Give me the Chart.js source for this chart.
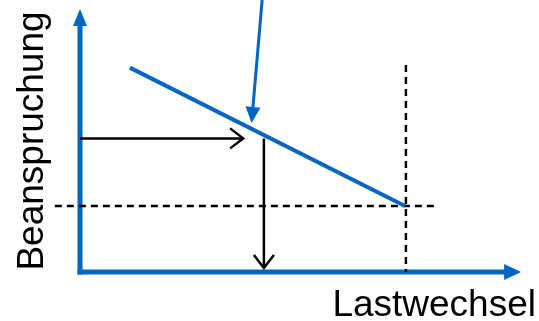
<!DOCTYPE html>
<html>
<head>
<meta charset="utf-8">
<script src="https://cdn.jsdelivr.net/npm/chart.js@4/dist/chart.umd.min.js"></script>
<style>
html, body { margin: 0; padding: 0; background: #fff; }
</style>
</head>
<body>
<canvas id="myChart" width="539" height="321"></canvas>
<script>
// schematic S-N (Woehler) diagram, values in arbitrary units 0..100
const xLabel = 'Lastwechsel';
const yLabel = 'Beanspruchung';

const xAxisX = [0, 96.4];
const xAxisY = [0, 0];
const yAxisX = [0, 0];
const yAxisY = [0, 94.3];

const curveX = [11.3, 73.7];
const curveY = [78, 25.2];

const loadX = [0, 37];
const loadY = [51, 51];
const lifeX = [41.7, 41.7];
const lifeY = [51, 1.5];

const limitHX = [-5.7, 80.5];
const limitHY = [25.2, 25.2];
const limitVX = [73.9, 73.9];
const limitVY = [79, 0];

const pointerX = [41.3, 39.2];
const pointerY = [103.8, 62.6];

const blue = '#0066c2';

function pts(xs, ys) {
    return xs.map((x, i) => ({ x: x, y: ys[i] }));
}

function seg(label, xs, ys, color, width, extra) {
    return Object.assign({
        label: label,
        data: pts(xs, ys),
        showLine: true,
        borderColor: color,
        backgroundColor: color,
        borderWidth: width,
        pointRadius: 0,
        tension: 0,
        clip: false
    }, extra || {});
}

// arrow heads at the last point of a dataset
const arrowPlugin = {
    id: 'arrows',
    afterDatasetsDraw(chart) {
        const ctx = chart.ctx;
        chart.data.datasets.forEach((ds, i) => {
            if (!ds.arrow) return;
            const pts = chart.getDatasetMeta(i).data;
            const a = pts[pts.length - 2], b = pts[pts.length - 1];
            const ang = Math.atan2(b.y - a.y, b.x - a.x);
            ctx.save();
            ctx.translate(b.x, b.y);
            ctx.rotate(ang);
            if (ds.arrow === 'filled') {
                const len = ds.headLen, w = ds.headWidth / 2;
                ctx.fillStyle = ds.borderColor;
                ctx.beginPath();
                ctx.moveTo(-1, -w);
                ctx.lineTo(len, 0);
                ctx.lineTo(-1, w);
                ctx.closePath();
                ctx.fill();
            } else {
                ctx.strokeStyle = ds.borderColor;
                ctx.lineWidth = ds.borderWidth;
                ctx.beginPath();
                ctx.moveTo(-ds.headLen, -ds.headWidth / 2);
                ctx.lineTo(0, 0);
                ctx.lineTo(-ds.headLen, ds.headWidth / 2);
                ctx.stroke();
            }
            ctx.restore();
        });
    }
};

const labelPlugin = {
    id: 'labels',
    afterDraw(chart) {
        const ctx = chart.ctx;
        const area = chart.chartArea;
        ctx.save();
        ctx.fillStyle = '#000';
        ctx.font = '37px "Liberation Sans", Arial, sans-serif';
        ctx.textAlign = 'right';
        ctx.textBaseline = 'alphabetic';
        ctx.fillText(xLabel, chart.width - 3, 316);
        ctx.translate(43, (area.top + area.bottom) / 2);
        ctx.rotate(-Math.PI / 2);
        ctx.textAlign = 'center';
        ctx.fillText(yLabel, 0, 0);
        ctx.restore();
    }
};

const config = {
    type: 'scatter',
    data: {
        datasets: [
            seg('pointer', pointerX, pointerY, blue, 3, { arrow: 'filled', headLen: 15, headWidth: 15 }),
            seg('curve', curveX, curveY, blue, 4),
            seg('load', loadX, loadY, '#000', 2.5, { arrow: 'open', headLen: 13, headWidth: 20 }),
            seg('life', lifeX, lifeY, '#000', 2.5, { arrow: 'open', headLen: 13, headWidth: 20 }),
            seg('limitH', limitHX, limitHY, '#000', 2.5, { borderDash: [7, 5] }),
            seg('limitV', limitVX, limitVY, '#000', 2.5, { borderDash: [7, 5] }),
            seg('xAxis', xAxisX, xAxisY, blue, 5, { arrow: 'filled', headLen: 16, headWidth: 16, borderCapStyle: 'square' }),
            seg('yAxis', yAxisX, yAxisY, blue, 5, { arrow: 'filled', headLen: 16, headWidth: 14, borderCapStyle: 'square' })
        ]
    },
    options: {
        responsive: false,
        animation: false,
        events: [],
        layout: {
            padding: { left: 80, right: 18, top: 10, bottom: 49 }
        },
        scales: {
            x: { type: 'linear', min: 0, max: 100, display: false },
            y: { type: 'linear', min: 0, max: 100, display: false }
        },
        plugins: {
            legend: { display: false },
            tooltip: { enabled: false }
        }
    },
    plugins: [arrowPlugin, labelPlugin]
};

const myChart = new Chart(document.getElementById('myChart'), config);
</script>
</body>
</html>
